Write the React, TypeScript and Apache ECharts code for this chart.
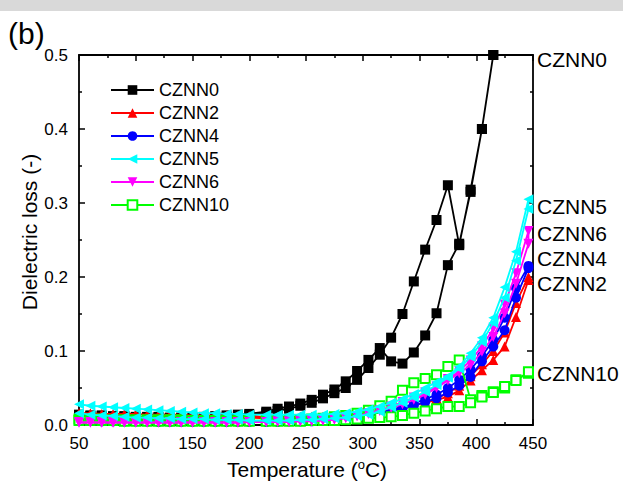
import React, { useEffect, useRef } from "react";
import * as echarts from "echarts";

const FONT = "Arial, 'Liberation Sans', Helvetica, sans-serif";

// Temperature steps (°C)
const TEMPS = [50, 60, 70, 80, 90, 100, 110, 120, 130, 140, 150, 160, 170, 180, 190, 200,
  215, 225, 235, 245, 255, 265, 275, 285, 295, 305, 315, 325, 335, 345, 355, 365, 375, 385, 395, 405, 415, 425, 435, 446];

// Heating (H) and cooling (C) branches, listed in ascending temperature
const CZNN0_H = [0.013, 0.012, 0.012, 0.011, 0.011, 0.010, 0.010, 0.010, 0.009, 0.009,
  0.009, 0.010, 0.010, 0.011, 0.012, 0.013, 0.016, 0.019, 0.022, 0.026,
  0.030, 0.036, 0.043, 0.050, 0.061, 0.077, 0.095, 0.118, 0.150, 0.194,
  0.237, 0.277, 0.324, 0.243, 0.318, 0.400, 0.500, 0.620, 0.760, 0.920];
const CZNN0_C = [0.014, 0.013, 0.013, 0.012, 0.012, 0.011, 0.011, 0.011, 0.010, 0.010,
  0.010, 0.011, 0.012, 0.013, 0.014, 0.015, 0.018, 0.022, 0.025, 0.029,
  0.034, 0.041, 0.048, 0.059, 0.073, 0.088, 0.104, 0.086, 0.083, 0.098,
  0.121, 0.151, 0.216, 0.245, 0.315, 0.400, 0.500, 0.620, 0.760, 0.920];

const CZNN2_H = [0.016, 0.016, 0.015, 0.015, 0.015, 0.015, 0.014, 0.014, 0.014, 0.014,
  0.013, 0.013, 0.013, 0.013, 0.012, 0.012, 0.011, 0.011, 0.011, 0.011,
  0.011, 0.011, 0.012, 0.013, 0.014, 0.016, 0.018, 0.021, 0.024, 0.027,
  0.030, 0.034, 0.038, 0.047, 0.060, 0.074, 0.088, 0.106, 0.146, 0.196];
const CZNN2_C = [0.012, 0.012, 0.011, 0.011, 0.011, 0.011, 0.011, 0.010, 0.010, 0.010,
  0.010, 0.010, 0.010, 0.010, 0.010, 0.010, 0.009, 0.009, 0.009, 0.009,
  0.009, 0.010, 0.010, 0.011, 0.012, 0.014, 0.016, 0.019, 0.022, 0.026,
  0.031, 0.036, 0.043, 0.053, 0.066, 0.082, 0.100, 0.125, 0.165, 0.200];

const CZNN4_H = [0.006, 0.006, 0.005, 0.005, 0.005, 0.005, 0.005, 0.004, 0.004, 0.004,
  0.004, 0.004, 0.004, 0.004, 0.004, 0.004, 0.004, 0.004, 0.005, 0.005,
  0.005, 0.006, 0.007, 0.008, 0.010, 0.012, 0.015, 0.019, 0.022, 0.026,
  0.031, 0.036, 0.044, 0.053, 0.065, 0.086, 0.106, 0.128, 0.172, 0.212];
const CZNN4_C = [0.007, 0.007, 0.006, 0.006, 0.006, 0.006, 0.005, 0.005, 0.005, 0.005,
  0.005, 0.005, 0.005, 0.005, 0.005, 0.005, 0.005, 0.005, 0.006, 0.006,
  0.006, 0.007, 0.008, 0.009, 0.011, 0.013, 0.016, 0.020, 0.024, 0.029,
  0.035, 0.041, 0.050, 0.061, 0.075, 0.093, 0.115, 0.145, 0.185, 0.215];

const CZNN5_H = [0.028, 0.026, 0.025, 0.024, 0.023, 0.022, 0.021, 0.020, 0.019, 0.018,
  0.017, 0.016, 0.016, 0.015, 0.015, 0.014, 0.014, 0.014, 0.014, 0.014,
  0.014, 0.014, 0.015, 0.016, 0.018, 0.021, 0.025, 0.030, 0.035, 0.042,
  0.050, 0.058, 0.066, 0.079, 0.097, 0.118, 0.145, 0.186, 0.234, 0.305];
const CZNN5_C = [0.016, 0.014, 0.013, 0.012, 0.011, 0.010, 0.010, 0.009, 0.009, 0.008,
  0.008, 0.008, 0.007, 0.007, 0.007, 0.006, 0.006, 0.006, 0.006, 0.007,
  0.007, 0.008, 0.009, 0.010, 0.012, 0.014, 0.018, 0.024, 0.030, 0.037,
  0.045, 0.054, 0.064, 0.076, 0.092, 0.112, 0.138, 0.172, 0.222, 0.292];

const CZNN6_H = [0.003, 0.003, 0.003, 0.003, 0.003, 0.003, 0.003, 0.003, 0.003, 0.003,
  0.003, 0.003, 0.003, 0.003, 0.003, 0.004, 0.004, 0.004, 0.004, 0.005,
  0.005, 0.006, 0.008, 0.010, 0.012, 0.015, 0.019, 0.023, 0.028, 0.034,
  0.041, 0.050, 0.060, 0.070, 0.081, 0.099, 0.119, 0.151, 0.191, 0.245];
const CZNN6_C = [0.004, 0.004, 0.004, 0.004, 0.004, 0.004, 0.004, 0.004, 0.004, 0.004,
  0.004, 0.004, 0.004, 0.004, 0.004, 0.004, 0.004, 0.005, 0.005, 0.005,
  0.006, 0.006, 0.007, 0.009, 0.012, 0.016, 0.020, 0.025, 0.031, 0.037,
  0.044, 0.052, 0.062, 0.073, 0.087, 0.106, 0.130, 0.163, 0.205, 0.262];

const CZNN10_H = [0.008, 0.008, 0.008, 0.007, 0.007, 0.007, 0.007, 0.007, 0.007, 0.007,
  0.006, 0.006, 0.006, 0.006, 0.006, 0.006, 0.006, 0.006, 0.007, 0.007,
  0.008, 0.009, 0.011, 0.013, 0.016, 0.020, 0.026, 0.032, 0.047, 0.057,
  0.063, 0.068, 0.079, 0.088, 0.034, 0.040, 0.045, 0.050, 0.061, 0.070];
const CZNN10_C = [0.006, 0.006, 0.006, 0.006, 0.005, 0.005, 0.005, 0.005, 0.005, 0.005,
  0.005, 0.005, 0.005, 0.005, 0.005, 0.005, 0.005, 0.005, 0.005, 0.005,
  0.006, 0.006, 0.006, 0.007, 0.008, 0.009, 0.010, 0.011, 0.013, 0.016,
  0.019, 0.022, 0.025, 0.025, 0.030, 0.038, 0.044, 0.052, 0.060, 0.072];

const LEGEND_ORDER = ["CZNN0", "CZNN2", "CZNN4", "CZNN5", "CZNN6", "CZNN10"];
const RIGHT_LABELS = ["CZNN0", "CZNN5", "CZNN6", "CZNN4", "CZNN2", "CZNN10"];
const RIGHT_LABEL_Y = [59, 206, 233, 258, 283, 373];

const SERIES_DEF = [
  { name: "CZNN0", heat: CZNN0_H, cool: CZNN0_C, color: "#000000", symbol: "rect", rotate: 0, size: 10 },
  { name: "CZNN2", heat: CZNN2_H, cool: CZNN2_C, color: "#ff0000", symbol: "triangle", rotate: 0, size: 10 },
  { name: "CZNN4", heat: CZNN4_H, cool: CZNN4_C, color: "#0000ff", symbol: "circle", rotate: 0, size: 10 },
  { name: "CZNN10", heat: CZNN10_H, cool: CZNN10_C, color: "#00ff00", symbol: "emptyRect", rotate: 0, size: 9 },
  { name: "CZNN6", heat: CZNN6_H, cool: CZNN6_C, color: "#ff00ff", symbol: "triangle", rotate: 180, size: 10 },
  { name: "CZNN5", heat: CZNN5_H, cool: CZNN5_C, color: "#00ffff", symbol: "triangle", rotate: 90, size: 10 },
];

function loopData(heat: number[], cool: number[]) {
  const up = TEMPS.map((t, i) => [t, heat[i]]);
  const down = TEMPS.map((t, i) => [t, cool[i]]).reverse();
  return up.concat(down);
}

export default function App() {
  const ref = useRef<HTMLDivElement>(null);
  useEffect(() => {
    const chart = echarts.init(ref.current!, null, { renderer: "svg" });
    const axisLineStyle = { color: "#000", width: 1.8 };
    const tickStyle = { color: "#000", width: 1.5 };
    const xCommon = {
      type: "value",
      min: 50,
      max: 450,
      interval: 50,
      axisLine: { show: true, onZero: false, lineStyle: axisLineStyle },
      axisTick: { show: true, inside: true, length: 6, lineStyle: tickStyle },
      minorTick: { show: true, splitNumber: 2, length: 3, lineStyle: tickStyle },
      splitLine: { show: false },
      minorSplitLine: { show: false },
    };
    const yCommon = {
      type: "value",
      min: 0,
      max: 0.5,
      interval: 0.1,
      axisLine: { show: true, onZero: false, lineStyle: axisLineStyle },
      axisTick: { show: true, inside: true, length: 6, lineStyle: tickStyle },
      minorTick: { show: true, splitNumber: 2, length: 3, lineStyle: tickStyle },
      splitLine: { show: false },
      minorSplitLine: { show: false },
    };
    const option: any = {
      animation: false,
      backgroundColor: "#ffffff",
      textStyle: { fontFamily: FONT },
      grid: { left: 79, right: 90, top: 55, bottom: 64, containLabel: false },
      legend: {
        data: LEGEND_ORDER,
        orient: "vertical",
        left: 105,
        top: 75,
        itemWidth: 43,
        itemHeight: 12,
        itemGap: 3,
        textStyle: { fontSize: 18, color: "#000", fontFamily: FONT, lineHeight: 20 },
      },
      xAxis: [
        {
          ...xCommon,
          position: "bottom",
          axisLabel: { fontSize: 17, color: "#000", margin: 10, fontFamily: FONT },
        },
        { ...xCommon, position: "top", axisLabel: { show: false } },
      ],
      yAxis: [
        {
          ...yCommon,
          position: "left",
          axisLabel: {
            fontSize: 17,
            color: "#000",
            margin: 11,
            fontFamily: FONT,
            formatter: (v: number) => v.toFixed(1),
          },
        },
        { ...yCommon, position: "right", axisLabel: { show: false } },
      ],
      series: SERIES_DEF.map((s, k) => ({
        name: s.name,
        type: "line",
        xAxisIndex: 0,
        yAxisIndex: 0,
        data: loopData(s.heat, s.cool),
        symbol: s.symbol,
        symbolSize: s.size,
        symbolRotate: s.rotate,
        showSymbol: true,
        showAllSymbol: true,
        clip: true,
        z: 2 + k,
        lineStyle: { color: s.color, width: 1.8 },
        itemStyle: { color: s.color, borderWidth: s.symbol === "emptyRect" ? 1.2 : 0 },
        emphasis: { disabled: true },
      })),
      graphic: [
        { type: "rect", left: 0, top: 0, shape: { x: 0, y: 0, width: 623, height: 11 }, style: { fill: "#d9d9d9" } },
        {
          type: "text",
          x: 8,
          y: 33,
          style: { text: "(b)", fontSize: 30, fill: "#000", fontFamily: FONT, align: "left", verticalAlign: "middle" },
        },
        {
          type: "text",
          x: 29,
          y: 232,
          rotation: Math.PI / 2,
          style: {
            text: "Dielectric loss (-)",
            fontSize: 21,
            fill: "#000",
            fontFamily: FONT,
            align: "center",
            verticalAlign: "middle",
          },
        },
        {
          type: "text",
          x: 307,
          y: 469,
          style: {
            text: "Temperature ({sup|o}C)",
            fontSize: 21,
            fill: "#000",
            fontFamily: FONT,
            align: "center",
            verticalAlign: "middle",
            rich: {
              sup: { fontSize: 13, fill: "#000", fontFamily: FONT, padding: [0, 0, 9, 0] },
            },
          },
        },
        ...RIGHT_LABELS.map((name, i) => ({
          type: "text",
          x: 537,
          y: RIGHT_LABEL_Y[i],
          style: {
            text: name,
            fontSize: 21,
            fill: "#000",
            fontFamily: FONT,
            align: "left",
            verticalAlign: "middle",
          },
        })),
      ],
    };
    chart.setOption(option);
    return () => chart.dispose();
  }, []);
  return (
    <div
      ref={ref}
      style={{ position: "fixed", left: 0, top: 0, width: 623, height: 489, background: "#fff" }}
    />
  );
}
